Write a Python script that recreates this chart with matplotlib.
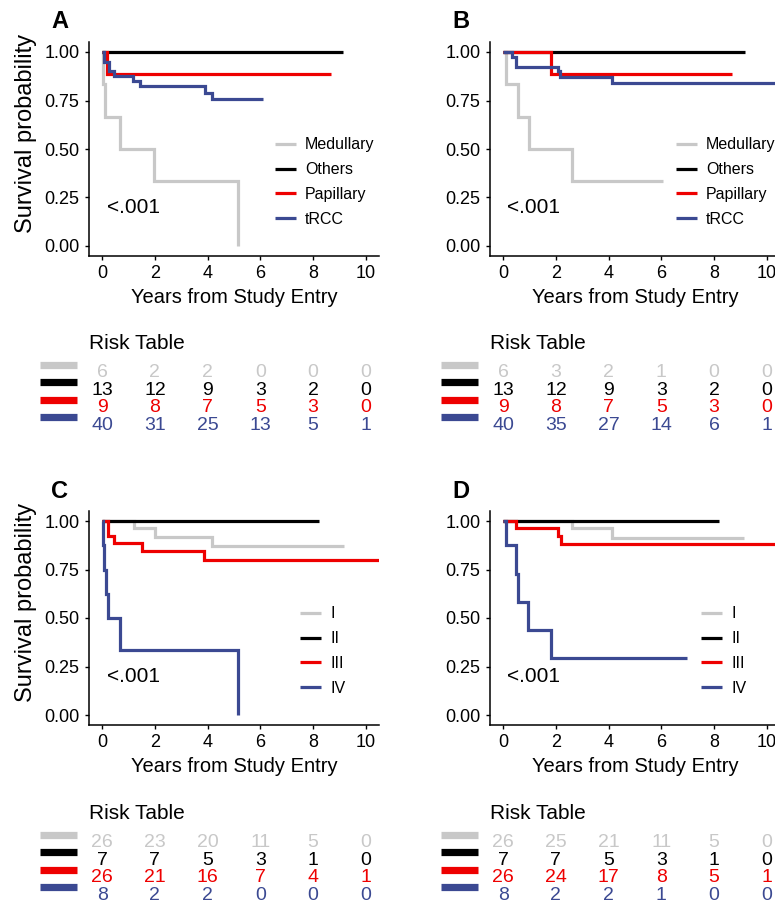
import matplotlib.pyplot as plt
from matplotlib.transforms import blended_transform_factory

plt.rcParams['font.family'] = ['Liberation Sans', 'DejaVu Sans']

# colours per group (gray, black, red, blue)
colors = ['#C8C8C8', '#000000', '#EE0000', '#3B4992']

# ---- panel A: histology, overall survival
a_labels = ['Medullary', 'Others', 'Papillary', 'tRCC']
a_med_t = [0, 0.02, 0.12, 0.66, 1.97, 5.14]
a_med_s = [1.0, 0.833, 0.667, 0.5, 0.333, 0.0]
a_oth_t = [0]
a_oth_s = [1.0]
a_pap_t = [0, 0.18]
a_pap_s = [1.0, 0.889]
a_trcc_t = [0, 0.05, 0.24, 0.43, 1.17, 1.44, 3.90, 4.15]
a_trcc_s = [1.0, 0.95, 0.90, 0.875, 0.85, 0.823, 0.79, 0.76]
a_end = [5.14, 9.15, 8.67, 6.09]
a_risk = [[6, 2, 2, 0, 0, 0],
          [13, 12, 9, 3, 2, 0],
          [9, 8, 7, 5, 3, 0],
          [40, 31, 25, 13, 5, 1]]

# ---- panel B
b_med_t = [0, 0.11, 0.56, 0.98, 2.61]
b_med_s = [1.0, 0.833, 0.667, 0.5, 0.333]
b_oth_t = [0]
b_oth_s = [1.0]
b_pap_t = [0, 1.8]
b_pap_s = [1.0, 0.889]
b_trcc_t = [0, 0.34, 0.47, 2.08, 2.17, 4.14]
b_trcc_s = [1.0, 0.975, 0.925, 0.90, 0.871, 0.84]
b_end = [6.05, 9.18, 8.69, 10.6]
b_risk = [[6, 3, 2, 1, 0, 0],
          [13, 12, 9, 3, 2, 0],
          [9, 8, 7, 5, 3, 0],
          [40, 35, 27, 14, 6, 1]]

# ---- panel C: stage
c_labels = ['I', 'II', 'III', 'IV']
c_i_t = [0, 1.19, 2.0, 4.18]
c_i_s = [1.0, 0.962, 0.919, 0.873]
c_ii_t = [0]
c_ii_s = [1.0]
c_iii_t = [0, 0.21, 0.43, 1.5, 3.86]
c_iii_s = [1.0, 0.923, 0.885, 0.846, 0.80]
c_iv_t = [0, 0.02, 0.08, 0.15, 0.21, 0.68, 5.14]
c_iv_s = [1.0, 0.875, 0.75, 0.625, 0.5, 0.333, 0.0]
c_end = [9.17, 8.22, 10.6, 5.14]
c_risk = [[26, 23, 20, 11, 5, 0],
          [7, 7, 5, 3, 1, 0],
          [26, 21, 16, 7, 4, 1],
          [8, 2, 2, 0, 0, 0]]

# ---- panel D
d_i_t = [0, 2.62, 4.13]
d_i_s = [1.0, 0.962, 0.914]
d_ii_t = [0]
d_ii_s = [1.0]
d_iii_t = [0, 0.47, 2.09, 2.18]
d_iii_s = [1.0, 0.962, 0.923, 0.881]
d_iv_t = [0, 0.11, 0.47, 0.56, 0.96, 1.81]
d_iv_s = [1.0, 0.875, 0.729, 0.583, 0.438, 0.292]
d_end = [9.15, 8.2, 10.6, 6.98]
d_risk = [[26, 25, 21, 11, 5, 0],
          [7, 7, 5, 3, 1, 0],
          [26, 24, 17, 8, 5, 1],
          [8, 2, 2, 1, 0, 0]]

risk_times = [0, 2, 4, 6, 8, 10]
pval = '<.001'

W, H = 775, 906
fig = plt.figure(figsize=(W / 100, H / 100), dpi=100)


def rect(left, top, width, bottom):
    return [left / W, 1 - bottom / H, width / W, (bottom - top) / H]


def km_panel(ax, curves, ends, labels, leg_x, p_x, ylab):
    for (t, s), end, col, lab in zip(curves, ends, colors, labels):
        ax.step(list(t) + [end], list(s) + [s[-1]], where='post', color=col,
                lw=2.3, label=lab, solid_capstyle='butt', solid_joinstyle='miter')
    ax.set_xlim(-0.5, 10.5)
    ax.set_ylim(-0.05, 1.05)
    ax.set_xticks([0, 2, 4, 6, 8, 10])
    ax.set_yticks([0, 0.25, 0.5, 0.75, 1.0])
    ax.set_yticklabels(['0.00', '0.25', '0.50', '0.75', '1.00'])
    for sp in ['top', 'right']:
        ax.spines[sp].set_visible(False)
    for sp in ['left', 'bottom']:
        ax.spines[sp].set_linewidth(1.1)
    ax.tick_params(direction='out', length=3, width=1.0, labelsize=13, pad=4)
    ax.set_xlabel('Years from Study Entry', fontsize=14.5, labelpad=4)
    if ylab:
        ax.set_ylabel('Survival probability', fontsize=17, labelpad=5, y=0.575)
    ax.text(p_x, 0.2, pval, fontsize=15, ha='left', va='center')
    ax.legend(loc='center left', bbox_to_anchor=(leg_x, 0.345), frameon=False,
              fontsize=11.5, handlelength=1.3, handletextpad=0.6,
              labelspacing=0.62, borderpad=0, borderaxespad=0)


def risk_panel(ax, counts):
    ax.set_xlim(-0.5, 10.5)
    ax.set_ylim(3.5, -0.5)
    ax.axis('off')
    tr = blended_transform_factory(ax.transAxes, ax.transData)
    for i, (row, col) in enumerate(zip(counts, colors)):
        ax.hlines(i - 0.47, -0.169, -0.041, colors=col, lw=5.2, transform=tr,
                  clip_on=False)
        for x, n in zip(risk_times, row):
            ax.text(x, i, str(n), color=col, fontsize=14, ha='center',
                    va='center', clip_on=False)
    ax.text(0, 1 + 15 / 69.4, 'Risk Table', transform=ax.transAxes,
            fontsize=15, ha='left', va='baseline')


axA = fig.add_axes(rect(89, 42.3, 290, 255.7))
km_panel(axA, [(a_med_t, a_med_s), (a_oth_t, a_oth_s), (a_pap_t, a_pap_s),
               (a_trcc_t, a_trcc_s)], a_end, a_labels, 0.641, 0.2, True)
axB = fig.add_axes(rect(490, 42.3, 290, 255.7))
km_panel(axB, [(b_med_t, b_med_s), (b_oth_t, b_oth_s), (b_pap_t, b_pap_s),
               (b_trcc_t, b_trcc_s)], b_end, a_labels, 0.641, 0.13, False)
axC = fig.add_axes(rect(89, 511.3, 290, 724.7))
km_panel(axC, [(c_i_t, c_i_s), (c_ii_t, c_ii_s), (c_iii_t, c_iii_s),
               (c_iv_t, c_iv_s)], c_end, c_labels, 0.728, 0.2, True)
axD = fig.add_axes(rect(490, 511.3, 290, 724.7))
km_panel(axD, [(d_i_t, d_i_s), (d_ii_t, d_ii_s), (d_iii_t, d_iii_s),
               (d_iv_t, d_iv_s)], d_end, c_labels, 0.727, 0.13, False)

rA = fig.add_axes(rect(89, 364.3, 290, 433.7))
risk_panel(rA, a_risk)
rB = fig.add_axes(rect(490, 364.3, 290, 433.7))
risk_panel(rB, b_risk)
rC = fig.add_axes(rect(89, 834.3, 290, 903.7))
risk_panel(rC, c_risk)
rD = fig.add_axes(rect(490, 834.3, 290, 903.7))
risk_panel(rD, d_risk)

# panel letters
for lab, px, py in [('A', 51, 28), ('B', 452, 28), ('C', 51, 498), ('D', 452, 498)]:
    fig.text(px / W, 1 - py / H, lab, fontsize=17, fontweight='bold',
             ha='left', va='baseline')

fig.savefig('out.png', dpi=100)
